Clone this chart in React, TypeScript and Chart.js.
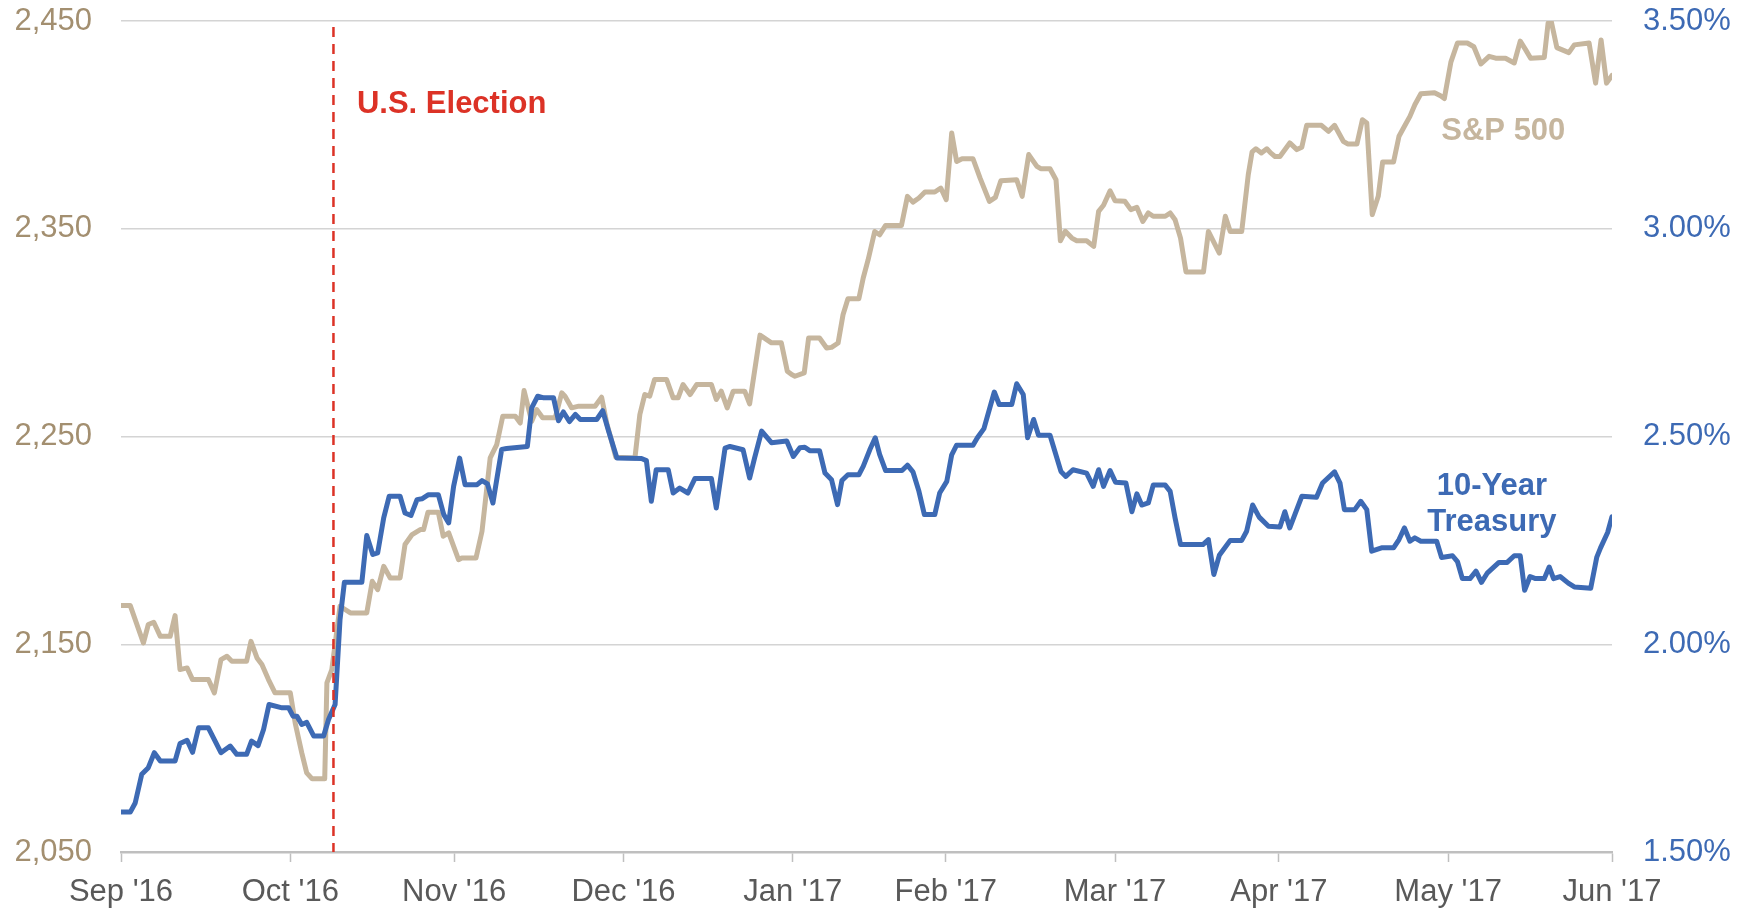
import React, { useEffect, useRef } from 'react';
import { Chart, registerables } from 'chart.js';

Chart.register(...registerables);

const tickDays = [0, 31, 61, 92, 123, 151, 182, 212, 243, 273];
const tickLabels = ["Sep '16", "Oct '16", "Nov '16", "Dec '16", "Jan '17", "Feb '17", "Mar '17", "Apr '17", "May '17", "Jun '17"];

const spDays = [
  0, 1.7, 4.1, 5.0, 6.0, 7.2, 9.0, 9.9, 10.8, 12.1, 13.1, 16.0, 17.1, 18.3, 19.4, 20.3, 23.0, 23.8, 24.9, 25.8,
  27.0, 28.2, 31.0, 31.9, 33.1, 34.0, 35.0, 37.3, 37.7, 38.6, 40.1, 42.0, 45.0, 46.0, 47.0, 48.1, 49.3, 51.1, 52.0, 53.3,
  54.8, 55.4, 56.2, 58.1, 59.0, 60.0, 61.8, 62.4, 65.0, 66.1, 67.6, 68.8, 69.9, 72.2, 73.1, 73.8, 75.2, 76.1, 77.2, 79.5,
  80.7, 81.3, 82.5, 83.8, 86.8, 88.0, 89.0, 89.6, 90.6, 94.1, 95.0, 95.9, 96.8, 97.7, 99.9, 101.1, 102.0, 102.9, 104.2, 105.4,
  108.1, 109.0, 109.9, 111.0, 112.1, 114.2, 115.1, 117.0, 119.1, 120.9, 122.0, 122.8, 123.4, 125.1, 125.9, 127.9, 129.2, 130.1, 131.3, 132.2,
  133.1, 135.1, 135.9, 136.8, 138.0, 138.9, 140.0, 142.9, 144.0, 145.0, 146.1, 147.2, 149.0, 150.1, 151.1, 152.1, 153.0, 154.0, 156.0, 157.3,
  159.0, 160.1, 161.1, 164.0, 165.0, 166.2, 167.7, 168.4, 170.1, 171.2, 172.0, 172.9, 174.1, 175.0, 176.8, 178.1, 179.0, 179.9, 181.1, 182.0,
  183.8, 184.9, 186.0, 187.1, 188.1, 189.0, 191.2, 192.1, 193.0, 194.0, 195.0, 198.2, 199.1, 201.1, 202.2, 203.1, 205.2, 206.4, 207.1, 207.8,
  208.8, 209.8, 210.5, 211.3, 212.2, 214.0, 215.3, 216.2, 217.1, 219.8, 221.1, 222.2, 223.8, 224.6, 226.3, 227.3, 228.1, 229.1, 230.2, 231.0,
  233.0, 234.0, 235.1, 236.0, 236.9, 238.0, 240.5, 241.6, 242.3, 243.5, 244.7, 246.5, 247.7, 249.0, 250.5, 251.7, 253.5, 255.1, 256.2, 257.2,
  258.1, 260.6, 261.3, 261.9, 262.9, 265.1, 266.1, 268.8, 270.0, 271.0, 272.0, 273.0
];
const spValues = [
  2168.6, 2168.6, 2150.6, 2159.5, 2160.6, 2153.8, 2153.8, 2163.8, 2137.8, 2138.6, 2133.0, 2133.0, 2126.6, 2142.6, 2144.2, 2141.8, 2141.8, 2151.4, 2143.4, 2140.2,
  2133.0, 2126.6, 2126.6, 2112.0, 2097.7, 2088.1, 2085.2, 2085.2, 2131.4, 2137.8, 2168.3, 2165.1, 2165.1, 2180.3, 2176.3, 2187.5, 2181.9, 2181.9, 2198.0, 2202.8,
  2205.2, 2205.2, 2213.5, 2213.5, 2202.0, 2203.6, 2190.7, 2191.5, 2191.5, 2204.4, 2239.7, 2246.1, 2259.7, 2259.7, 2256.5, 2272.1, 2257.3, 2263.0, 2259.0, 2259.0,
  2271.0, 2269.4, 2263.8, 2264.6, 2264.6, 2268.9, 2255.7, 2250.1, 2240.0, 2239.7, 2260.6, 2270.2, 2269.4, 2277.4, 2277.4, 2268.6, 2268.6, 2275.0, 2270.2, 2275.0,
  2275.0, 2267.8, 2271.8, 2263.8, 2271.8, 2271.8, 2265.7, 2298.8, 2295.1, 2295.1, 2281.4, 2279.8, 2279.0, 2280.6, 2297.4, 2297.4, 2292.6, 2292.9, 2295.0, 2308.6,
  2316.3, 2316.3, 2326.3, 2335.1, 2348.7, 2347.1, 2351.6, 2351.6, 2365.6, 2362.8, 2364.8, 2367.7, 2367.7, 2369.6, 2364.0, 2396.1, 2382.4, 2383.7, 2383.7, 2374.4,
  2363.2, 2365.1, 2373.1, 2373.6, 2365.6, 2385.7, 2380.0, 2378.9, 2378.9, 2373.6, 2344.2, 2348.8, 2345.5, 2344.2, 2344.2, 2341.5, 2358.4, 2361.3, 2368.3, 2363.5,
  2363.2, 2359.2, 2360.3, 2353.5, 2357.6, 2356.0, 2356.0, 2357.6, 2354.3, 2345.5, 2329.2, 2329.2, 2348.7, 2338.3, 2356.0, 2348.7, 2348.7, 2376.0, 2387.0, 2388.5,
  2386.5, 2388.5, 2386.5, 2384.8, 2384.8, 2391.3, 2388.1, 2389.2, 2399.8, 2399.8, 2396.9, 2399.8, 2392.1, 2390.8, 2390.8, 2402.5, 2400.9, 2356.8, 2365.6, 2382.1,
  2382.1, 2394.5, 2399.8, 2404.1, 2409.7, 2415.0, 2415.5, 2414.0, 2412.7, 2430.2, 2439.4, 2439.4, 2437.6, 2429.3, 2433.0, 2432.1, 2432.1, 2429.8, 2440.3, 2436.1,
  2432.1, 2432.4, 2449.0, 2449.5, 2437.2, 2434.8, 2438.5, 2439.4, 2420.1, 2440.9, 2420.1, 2423.8
];

const tyDays = [
  0, 1.7, 2.6, 3.8, 5.0, 6.1, 7.2, 9.9, 10.8, 12.1, 13.1, 14.2, 16.0, 18.3, 20.0, 21.2, 23.0, 23.9, 25.1, 26.1,
  27.1, 29.5, 30.7, 31.5, 32.2, 33.1, 34.0, 35.3, 37.1, 38.0, 39.2, 40.1, 40.9, 44.1, 45.0, 46.1, 47.0, 48.1, 49.1, 51.1,
  52.0, 53.1, 54.2, 55.1, 56.3, 58.1, 59.1, 60.0, 60.9, 62.0, 63.0, 65.2, 66.1, 67.1, 68.1, 69.7, 70.6, 74.4, 75.2, 76.3,
  77.4, 79.2, 80.1, 81.0, 82.1, 83.2, 84.1, 87.1, 88.2, 89.3, 90.8, 95.3, 96.2, 97.1, 98.0, 100.2, 101.1, 102.3, 103.8, 105.1,
  108.1, 109.0, 110.6, 111.5, 113.9, 115.1, 116.0, 117.3, 119.1, 121.9, 123.1, 124.3, 125.2, 126.1, 127.9, 128.9, 130.1, 131.2, 132.0, 133.1,
  135.1, 135.9, 137.1, 138.1, 138.9, 140.0, 143.0, 144.0, 145.0, 146.1, 147.1, 149.0, 149.9, 151.2, 152.1, 153.0, 156.0, 156.8, 158.0, 159.9,
  160.8, 163.1, 164.0, 165.2, 166.0, 167.1, 168.0, 170.1, 171.0, 172.1, 173.0, 174.3, 176.8, 178.0, 179.0, 179.9, 181.1, 182.1, 184.0, 185.1,
  186.0, 186.9, 188.1, 189.0, 191.2, 192.1, 193.0, 194.0, 198.1, 199.1, 200.1, 201.1, 203.1, 205.2, 206.1, 207.2, 208.4, 210.1, 212.2, 213.1,
  214.0, 216.2, 218.9, 220.0, 222.2, 223.2, 224.0, 225.9, 227.0, 228.1, 229.0, 230.8, 233.0, 234.0, 235.0, 236.0, 236.9, 238.0, 240.9, 241.8,
  243.8, 244.7, 245.6, 247.0, 248.1, 249.1, 250.2, 252.3, 253.8, 255.1, 256.2, 257.0, 258.0, 259.0, 260.6, 261.5, 262.3, 263.5, 265.0, 266.1,
  269.1, 270.2, 270.9, 272.2, 273.0
];
const tyValues = [
  1.596, 1.596, 1.618, 1.687, 1.703, 1.739, 1.719, 1.719, 1.761, 1.769, 1.740, 1.799, 1.799, 1.739, 1.755, 1.735, 1.735, 1.767, 1.756, 1.795,
  1.855, 1.847, 1.847, 1.827, 1.827, 1.807, 1.812, 1.779, 1.779, 1.819, 1.855, 2.059, 2.149, 2.149, 2.262, 2.216, 2.220, 2.304, 2.356, 2.356,
  2.316, 2.310, 2.348, 2.350, 2.360, 2.360, 2.312, 2.292, 2.380, 2.448, 2.384, 2.384, 2.394, 2.386, 2.340, 2.469, 2.471, 2.476, 2.569, 2.597,
  2.593, 2.593, 2.538, 2.559, 2.536, 2.553, 2.541, 2.541, 2.562, 2.512, 2.448, 2.447, 2.442, 2.344, 2.420, 2.420, 2.364, 2.376, 2.364, 2.399,
  2.399, 2.328, 2.472, 2.476, 2.468, 2.400, 2.448, 2.513, 2.485, 2.489, 2.452, 2.473, 2.474, 2.466, 2.466, 2.412, 2.396, 2.336, 2.394, 2.408,
  2.408, 2.428, 2.468, 2.497, 2.457, 2.418, 2.418, 2.431, 2.415, 2.368, 2.312, 2.312, 2.364, 2.392, 2.456, 2.479, 2.479, 2.497, 2.519, 2.607,
  2.577, 2.577, 2.627, 2.601, 2.497, 2.541, 2.503, 2.503, 2.464, 2.416, 2.404, 2.420, 2.412, 2.380, 2.420, 2.380, 2.418, 2.390, 2.388, 2.319,
  2.362, 2.335, 2.340, 2.383, 2.383, 2.368, 2.304, 2.240, 2.240, 2.252, 2.168, 2.214, 2.250, 2.250, 2.272, 2.335, 2.306, 2.284, 2.282, 2.319,
  2.280, 2.356, 2.354, 2.388, 2.415, 2.388, 2.324, 2.324, 2.344, 2.324, 2.224, 2.232, 2.232, 2.252, 2.280, 2.248, 2.256, 2.248, 2.248, 2.209,
  2.213, 2.199, 2.158, 2.158, 2.176, 2.149, 2.172, 2.197, 2.197, 2.213, 2.213, 2.130, 2.163, 2.158, 2.158, 2.186, 2.158, 2.163, 2.147, 2.138,
  2.135, 2.209, 2.232, 2.269, 2.307
];

const electionDay = 38.9;

const TAN = '#C6B69E';
const TAN_LABEL = '#A38F70';
const BLUE = '#3D6AB4';
const RED = '#DC3226';
const FONT = "'Liberation Sans', Arial, sans-serif";

export default function App() {
  const ref = useRef<HTMLCanvasElement>(null);

  useEffect(() => {
    document.body.style.margin = '0';
    const canvas = ref.current;
    if (!canvas) return;

    const annotations = {
      id: 'annotations',
      afterDatasetsDraw(chart: any) {
        const { ctx, scales, chartArea } = chart;
        const xs = scales.x;
        const yl = scales.y;
        const yr = scales.y1;
        ctx.save();
        const ex = xs.getPixelForValue(electionDay);
        ctx.strokeStyle = RED;
        ctx.lineWidth = 2.5;
        ctx.setLineDash([10, 7]);
        ctx.beginPath();
        ctx.moveTo(ex, chartArea.top + 6);
        ctx.lineTo(ex, chartArea.bottom);
        ctx.stroke();
        ctx.setLineDash([]);

        ctx.font = `bold 31px ${FONT}`;
        ctx.textBaseline = 'middle';
        ctx.fillStyle = RED;
        ctx.textAlign = 'left';
        ctx.fillText('U.S. Election', xs.getPixelForValue(43.2), yl.getPixelForValue(2410));

        ctx.fillStyle = TAN;
        ctx.textAlign = 'center';
        ctx.fillText('S&P 500', xs.getPixelForValue(253.1), yl.getPixelForValue(2397));

        ctx.fillStyle = BLUE;
        ctx.fillText('10-Year', xs.getPixelForValue(251), yr.getPixelForValue(2.38));
        ctx.fillText('Treasury', xs.getPixelForValue(251), yr.getPixelForValue(2.292));
        ctx.restore();
      },
    };

    const sp = spDays.map((d, i) => ({ x: d, y: spValues[i] }));
    const ty = tyDays.map((d, i) => ({ x: d, y: tyValues[i] }));

    const chart = new Chart(canvas, {
      type: 'line',
      data: {
        datasets: [
          {
            label: '10-Year Treasury',
            data: ty,
            yAxisID: 'y1',
            borderColor: BLUE,
            borderWidth: 5,
            pointRadius: 0,
            tension: 0,
            order: 0,
            borderJoinStyle: 'round',
            borderCapStyle: 'round',
          },
          {
            label: 'S&P 500',
            data: sp,
            yAxisID: 'y',
            borderColor: TAN,
            borderWidth: 5,
            pointRadius: 0,
            tension: 0,
            order: 1,
            borderJoinStyle: 'round',
            borderCapStyle: 'round',
          },
        ],
      },
      options: {
        responsive: false,
        animation: false,
        devicePixelRatio: 1,
        layout: { padding: { top: 21, left: 0, right: 0, bottom: 0 } },
        plugins: { legend: { display: false }, tooltip: { enabled: false } },
        scales: {
          x: {
            type: 'linear',
            min: 0,
            max: 273,
            afterBuildTicks: (s: any) => {
              s.ticks = tickDays.map((v) => ({ value: v }));
            },
            afterFit: (s: any) => {
              s.height = 59;
              s.paddingLeft = 0;
              s.paddingRight = 0;
            },
            ticks: {
              autoSkip: false,
              maxRotation: 0,
              padding: 12,
              color: '#595959',
              font: { size: 31, family: FONT },
              callback: (v: any) => {
                const i = tickDays.indexOf(Number(v));
                return i >= 0 ? tickLabels[i] : '';
              },
            },
            grid: {
              drawOnChartArea: false,
              drawTicks: true,
              tickLength: 10,
              tickColor: '#BFBFBF',
              tickWidth: 1.5,
            },
            border: { display: true, color: '#BFBFBF', width: 2.5 },
          },
          y: {
            position: 'left',
            min: 2050,
            max: 2450,
            afterFit: (s: any) => {
              s.width = 121;
              s.paddingTop = 0;
              s.paddingBottom = 0;
            },
            ticks: {
              stepSize: 100,
              padding: 29,
              color: TAN_LABEL,
              font: { size: 31, family: FONT },
              callback: (v: any) => Number(v).toLocaleString('en-US'),
            },
            grid: { color: '#D4D4D4', lineWidth: 1.5, drawTicks: false },
            border: { display: false },
          },
          y1: {
            position: 'right',
            min: 1.5,
            max: 3.5,
            afterFit: (s: any) => {
              s.width = 142;
              s.paddingTop = 0;
              s.paddingBottom = 0;
            },
            ticks: {
              stepSize: 0.5,
              padding: 31,
              color: BLUE,
              font: { size: 31, family: FONT },
              callback: (v: any) => Number(v).toFixed(2) + '%',
            },
            grid: { drawOnChartArea: false, drawTicks: false },
            border: { display: false },
          },
        },
      },
      plugins: [annotations],
    } as any);

    return () => chart.destroy();
  }, []);

  return (
    <div style={{ width: 1754, height: 911 }}>
      <canvas ref={ref} width={1754} height={911} style={{ display: 'block' }} />
    </div>
  );
}
